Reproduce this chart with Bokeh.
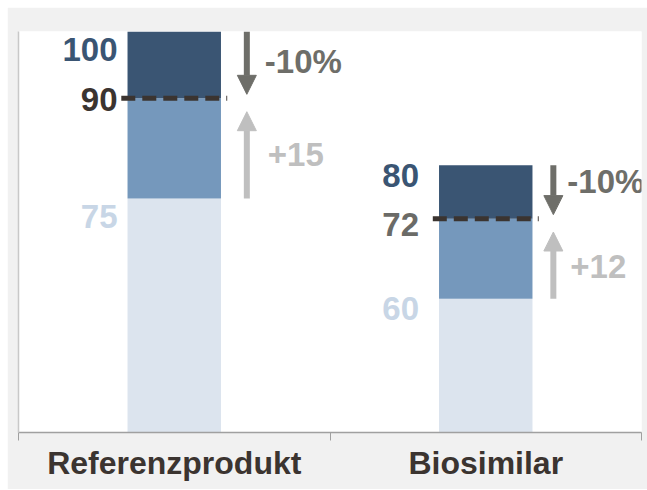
from bokeh.plotting import figure
from bokeh.models import (Range1d, FixedTicker, LabelSet, ColumnDataSource,
                          Arrow, NormalHead)
from bokeh.core.properties import value
from bokeh.embed import file_html
from bokeh.resources import INLINE

# ---- data ----
categories = ["Referenzprodukt", "Biosimilar"]
base_values = [75, 60]      # light segment top
target_values = [90, 72]    # dashed line (after -10%)
top_values = [100, 80]      # full bar top

# ---- style / layout ----
FONT = "Liberation Sans"
C_DARK = "#3a5573"
C_MID = "#7598bc"
C_LIGHT = "#dce4ee"
C_LIGHT_TXT = "#c8d6e6"
C_BROWN = "#3b3430"
C_GRAY = "#6e6e69"
C_LGRAY = "#bfbfbf"
BAR_W = 0.3
arrow_dx = [0.233, 0.217]        # arrow offset from bar centre (x units)
text_dx = [18, 14]               # px, change text right of arrow
label_gap = [-10, -20]           # px gap between value labels and bar
edge_label_dy = [-6, 1.5]        # px, top/base labels
mid_label_dy = [-1, -5.5]        # px, target labels
pct_dy = [1, 8]                  # px, "-10%" texts
plus_dy = [1, -1]                # px, "+15" texts

n = len(categories)
xc = [i + 0.5 for i in range(n)]

p = figure(width=640, height=482, x_range=Range1d(0, n), y_range=Range1d(40, 100),
           output_backend="svg", toolbar_location=None,
           min_border_left=11, min_border_top=24, min_border_right=6, min_border_bottom=57,
           background_fill_color="white", border_fill_color="#f1f1f1",
           outline_line_color=None)
p.margin = (7, 0, 0, 7)
p.xgrid.visible = False
p.ygrid.visible = False

# stacked bars
p.vbar(x=xc, width=BAR_W, bottom=0, top=base_values, fill_color=C_LIGHT, line_color=None)
p.vbar(x=xc, width=BAR_W, bottom=base_values, top=target_values, fill_color=C_MID, line_color=None)
p.vbar(x=xc, width=BAR_W, bottom=target_values, top=top_values, fill_color=C_DARK, line_color=None)

# dashed target line
p.segment(x0=[x - 0.17 for x in xc], x1=[x + 0.17 for x in xc],
          y0=target_values, y1=target_values,
          line_color=C_BROWN, line_width=5, line_dash="14 7")

# value labels
lx = [x - BAR_W / 2 for x in xc]
top_src = ColumnDataSource(dict(x=lx, y=top_values, t=[str(v) for v in top_values],
                                dx=label_gap, dy=edge_label_dy))
tgt_src = ColumnDataSource(dict(x=lx, y=target_values, t=[str(v) for v in target_values],
                                dx=label_gap, dy=mid_label_dy, c=[C_BROWN, "#6b6b67"]))
base_src = ColumnDataSource(dict(x=lx, y=base_values, t=[str(v) for v in base_values],
                                 dx=label_gap, dy=edge_label_dy))

common = dict(text_font=value(FONT), text_font_style="bold", text_font_size="33px",
              text_align="right", x_offset="dx", y_offset="dy")
p.add_layout(LabelSet(x="x", y="y", text="t", source=top_src,
                      text_baseline="top", text_color=C_DARK, **common))
p.add_layout(LabelSet(x="x", y="y", text="t", source=tgt_src,
                      text_baseline="middle", text_color="c", **common))
p.add_layout(LabelSet(x="x", y="y", text="t", source=base_src,
                      text_baseline="top", text_color=C_LIGHT_TXT, **common))

# arrows
ax = [x + d for x, d in zip(xc, arrow_dx)]
down_end = [t + 0.6 for t in target_values]
up_end = [t - 2 for t in target_values]
down_src = ColumnDataSource(dict(x=ax, y0=top_values, y1=down_end))
up_src = ColumnDataSource(dict(x=ax, y0=base_values, y1=up_end))
p.add_layout(Arrow(x_start="x", y_start="y0", x_end="x", y_end="y1", source=down_src,
                   line_color=C_GRAY, line_width=6,
                   end=NormalHead(size=19, fill_color=C_GRAY, line_color=C_GRAY)))
p.add_layout(Arrow(x_start="x", y_start="y0", x_end="x", y_end="y1", source=up_src,
                   line_color=C_LGRAY, line_width=6,
                   end=NormalHead(size=19, fill_color=C_LGRAY, line_color=C_LGRAY)))

# change texts (centred on arrows)
pct = ["%d%%" % round((t - o) / o * 100) for t, o in zip(target_values, top_values)]
plus = ["+%d" % (t - b) for t, b in zip(target_values, base_values)]
pct_src = ColumnDataSource(dict(x=ax, y=[(a + b) / 2 for a, b in zip(top_values, down_end)],
                                t=pct, dx=text_dx, dy=pct_dy))
plus_src = ColumnDataSource(dict(x=ax, y=[(a + b) / 2 for a, b in zip(base_values, up_end)],
                                 t=plus, dx=[d + 3 for d in text_dx], dy=plus_dy))
ctext = dict(text_font=value(FONT), text_font_style="bold", text_font_size="33px",
             text_align="left", text_baseline="middle", x_offset="dx", y_offset="dy")
p.add_layout(LabelSet(x="x", y="y", text="t", source=pct_src, text_color=C_GRAY, **ctext))
p.add_layout(LabelSet(x="x", y="y", text="t", source=plus_src, text_color=C_LGRAY, **ctext))

# axes
xa = p.xaxis[0]
xa.ticker = FixedTicker(ticks=xc, minor_ticks=list(range(n + 1)))
xa.major_label_overrides = {x: c for x, c in zip(xc, categories)}
xa.major_tick_out = 0
xa.major_tick_in = 0
xa.minor_tick_out = 8
xa.minor_tick_in = 0
xa.minor_tick_line_color = "#a0a0a0"
xa.axis_line_color = "#a0a0a0"
xa.axis_line_width = 1.5
xa.major_label_standoff = 4
xa.major_label_text_font = FONT
xa.major_label_text_font_style = "bold"
xa.major_label_text_font_size = "32px"
xa.major_label_text_color = C_BROWN

ya = p.yaxis[0]
ya.ticker = FixedTicker(ticks=[])
ya.major_label_text_font_size = "0px"
ya.major_tick_out = 0
ya.minor_tick_out = 0
ya.axis_line_color = "#c8c8c8"
ya.axis_line_width = 1.5

open("out.html", "w").write(file_html(p, INLINE))
